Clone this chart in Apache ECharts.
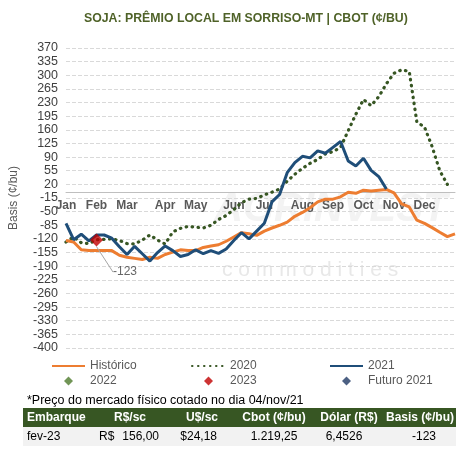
<!DOCTYPE html>
<html>
<head>
<meta charset="utf-8">
<script src="https://cdn.jsdelivr.net/npm/echarts@6/dist/echarts.min.js"></script>
<style>
  html, body { margin: 0; padding: 0; background: #fff; }
  #chart { width: 469px; height: 450px; }
</style>
</head>
<body>
<div id="chart"></div>
<script>
const FONT = "'Liberation Sans', Arial, sans-serif"

// x axis: weekly points, month name shown at the week the month starts
const months = ["Jan", "Feb", "Mar", "Apr", "May", "Jun", "Jul", "Aug", "Sep", "Oct", "Nov", "Dec"]
const monthStart = [0, 4, 8, 13, 17, 22, 26, 31, 35, 39, 43, 47]
const weeks = Array.from({ length: 52 }, (_, i) => "S" + (i + 1))

const yTicks = [370, 335, 300, 265, 230, 195, 160, 125, 90, 55, 20, -15, -50, -85,
  -120, -155, -190, -225, -260, -295, -330, -365, -400]

// basis (¢/bu) per week
const historico = [-124, -128, -148, -150, -150, -150, -150, -162, -167, -170, -173, -167,
  -170, -160, -154, -148, -150, -150, -142, -138, -135, -126, -115, -104, -107, -111,
  -100, -92, -85, -77, -62, -52, -40, -25, -18, -18, -12, 0, -3, 5, 3, 5, 7, -2, -30,
  -38, -72, -80, -91, -103, -114, -107]
const basis2020 = [-128, -115, -130, -132, -122, -121, -120, -124, -132, -133, -123, -110,
  -123, -133, -102, -93, -88, -90, -92, -85, -70, -60, -45, -27, -18, -16, -7, 0, 8, 28,
  46, 61, 74, 84, 98, 104, 115, 158, 200, 238, 222, 245, 278, 305, 314, 310, 180, 167,
  117, 55, 20]
const basis2021 = [-80, -122, -108, -125, -110, -110, -118, -140, -160, -139, -158, -177,
  -155, -138, -150, -165, -160, -148, -158, -150, -157, -146, -124, -104, -120, -100,
  -80, -25, -6, 50, 76, 92, 88, 106, 100, 115, 130, 80, 67, 87, 56, 40, 8]
const basis2023 = [[weeks[4], -123]]
const basis2022 = []
const futuro2021 = []

const footnote = "*Preço do mercado físico cotado no dia 04/nov/21"
const tableHeader = ["Embarque", "R$/sc", "U$/sc", "Cbot (¢/bu)", "Dólar (R$)", "Basis (¢/bu)"]
const tableRow = ["fev-23", "R$", "156,00", "$24,18", "1.219,25", "6,4526", "-123"]

const chart = echarts.init(document.getElementById("chart"))

function txt(text, x, y, opts) {
  const align = (opts && opts.align) || "left"
  return {
    type: "text",
    z: 10,
    style: {
      text, x, y,
      fill: (opts && opts.fill) || "#000",
      font: (opts && opts.font) || "12px " + FONT,
      align, textAlign: align,
      verticalAlign: "middle", textVerticalAlign: "middle",
    },
  }
}

const DIAMOND = "path://M0,-1L1,0L0,1L-1,0Z"
const noDot = { itemStyle: { opacity: 0 } }

const legendBase = {
  orient: "vertical",
  top: 360,
  padding: 0,
  itemWidth: 33,
  itemHeight: 9,
  itemGap: 3,
  symbolKeepAspect: true,
  textStyle: { color: "#595959", fontSize: 12, fontFamily: FONT },
}

chart.setOption({
  animation: false,
  backgroundColor: "#fff",
  textStyle: { fontFamily: FONT },
  title: {
    text: "SOJA: PRÊMIO LOCAL EM SORRISO-MT | CBOT (¢/BU)",
    left: 79,
    top: 8,
    textStyle: { fontSize: 12.3, fontWeight: "bold", color: "#4f6228", fontFamily: FONT },
  },
  legend: [
    { ...legendBase, left: 51, data: [{ name: "Histórico", ...noDot }, { name: "2022", icon: DIAMOND }] },
    { ...legendBase, left: 191, data: [{ name: "2020", ...noDot }, { name: "2023", icon: DIAMOND }] },
    { ...legendBase, left: 329, data: [{ name: "2021", ...noDot }, { name: "Futuro 2021", icon: DIAMOND }] },
  ],
  grid: { left: 63, right: 14, top: 48, bottom: 102 },
  xAxis: {
    type: "category",
    data: weeks,
    boundaryGap: false,
    // axis drawn at the zero line, month labels just below it
    offset: -156,
    axisLine: { onZero: false, lineStyle: { color: "#bfbfbf" } },
    axisTick: { show: false },
    axisLabel: {
      interval: (idx) => monthStart.includes(idx),
      formatter: (v, idx) => months[monthStart.indexOf(idx)] || "",
      color: "#595959",
      fontWeight: "bold",
      fontSize: 12,
      margin: 8,
    },
    splitLine: { show: false },
  },
  yAxis: {
    type: "value",
    min: -400,
    max: 370,
    name: "Basis (¢/bu)",
    nameLocation: "middle",
    nameGap: 46,
    nameTextStyle: { color: "#595959", fontSize: 12 },
    axisLine: { show: false },
    axisTick: { show: false, customValues: yTicks },
    axisLabel: { customValues: yTicks, color: "#404040", fontSize: 12.5 },
    splitLine: { lineStyle: { color: "#d9d9d9", type: "dashed" } },
  },
  series: [
    {
      name: "Histórico",
      type: "line",
      data: historico,
      symbol: "none",
      z: 3,
      itemStyle: { color: "#ed7d31" },
      lineStyle: { color: "#ed7d31", width: 3 },
    },
    {
      name: "2020",
      type: "line",
      data: basis2020,
      symbol: "none",
      z: 2,
      itemStyle: { color: "#375623" },
      lineStyle: { color: "#375623", width: 3.2, type: [0.5, 5.5], cap: "round" },
    },
    {
      name: "2021",
      type: "line",
      data: basis2021,
      symbol: "none",
      z: 4,
      itemStyle: { color: "#1f4e79" },
      lineStyle: { color: "#1f4e79", width: 3 },
    },
    {
      name: "2022",
      type: "scatter",
      data: basis2022,
      symbol: "diamond",
      itemStyle: { color: "#4e7a2c" },
    },
    {
      name: "2023",
      type: "scatter",
      data: basis2023,
      symbol: "diamond",
      symbolSize: 13,
      z: 6,
      itemStyle: { color: "#c00000" },
      label: {
        show: true,
        position: "right",
        formatter: (p) => p.value[1],
        color: "#404040",
        fontSize: 12,
      },
      labelLayout: { dx: 5, dy: 32 },
      labelLine: { show: true, lineStyle: { color: "#a6a6a6", width: 1 } },
    },
    {
      name: "Futuro 2021",
      type: "scatter",
      data: futuro2021,
      symbol: "diamond",
      itemStyle: { color: "#1f3864" },
    },
  ],
  graphic: [
    // faint watermark
    {
      type: "text", z: -1, silent: true,
      style: { text: "AGRINVEST", x: 214, y: 210, fill: "#f3f3f3",
        font: "italic bold 40px " + FONT, textVerticalAlign: "middle", verticalAlign: "middle" },
    },
    {
      type: "text", z: -1, silent: true,
      style: { text: "c o m m o d i t i e s", x: 222, y: 270, fill: "#e8e8e8",
        font: "21px " + FONT, textVerticalAlign: "middle", verticalAlign: "middle" },
    },
    txt(footnote, 27, 401, { font: "12.5px " + FONT }),
    { type: "rect", z: 9, shape: { x: 23, y: 408, width: 433, height: 19 }, style: { fill: "#375623" } },
    { type: "rect", z: 9, shape: { x: 23, y: 427, width: 433, height: 19 }, style: { fill: "#f2f2f2" } },
    txt(tableHeader[0], 27, 418, { fill: "#fff", font: "bold 12px " + FONT }),
    txt(tableHeader[1], 130, 418, { fill: "#fff", font: "bold 12px " + FONT, align: "center" }),
    txt(tableHeader[2], 202, 418, { fill: "#fff", font: "bold 12px " + FONT, align: "center" }),
    txt(tableHeader[3], 274, 418, { fill: "#fff", font: "bold 12px " + FONT, align: "center" }),
    txt(tableHeader[4], 349, 418, { fill: "#fff", font: "bold 12px " + FONT, align: "center" }),
    txt(tableHeader[5], 420, 418, { fill: "#fff", font: "bold 12px " + FONT, align: "center" }),
    txt(tableRow[0], 27, 437),
    txt(tableRow[1], 99, 437),
    txt(tableRow[2], 159, 437, { align: "right" }),
    txt(tableRow[3], 217, 437, { align: "right" }),
    txt(tableRow[4], 274, 437, { align: "center" }),
    txt(tableRow[5], 344, 437, { align: "center" }),
    txt(tableRow[6], 424, 437, { align: "center" }),
  ],
})
</script>
</body>
</html>
